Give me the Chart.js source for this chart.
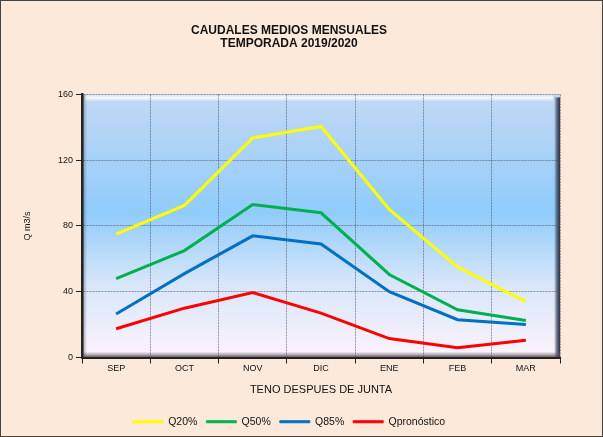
<!DOCTYPE html>
<html>
<head>
<meta charset="utf-8">
<script src="https://cdn.jsdelivr.net/npm/chart.js@4/dist/chart.umd.min.js"></script>
<style>
  html, body { margin: 0; padding: 0; background: #fde9d9; }
  #wrap { width: 603px; height: 437px; }
</style>
</head>
<body>
<div id="wrap"><canvas id="myChart" width="603" height="437"></canvas></div>
<script>
// Datos
const meses = ['SEP', 'OCT', 'NOV', 'DIC', 'ENE', 'FEB', 'MAR'];
const q20 = [75, 92.5, 133.5, 140.5, 90, 55, 34];
const q50 = [48, 65, 93, 88, 50.5, 29, 22.5];
const q85 = [26.5, 51, 74, 69, 40, 23, 20];
const qPronostico = [17.5, 30, 39.5, 27, 11.5, 6, 10.5];
const ticksY = [0, 40, 80, 120, 160];

const fuente = "'Liberation Sans', Arial, sans-serif";
Chart.defaults.font.family = fuente;

// Fondo de la figura y del area de trazado (degradado + bisel)
const fondoPlugin = {
    id: 'fondo',
    beforeDraw(chart) {
        const { ctx, width, height, chartArea: a } = chart;
        ctx.save();
        ctx.fillStyle = '#fde9d9';
        ctx.fillRect(0, 0, width, height);
        ctx.strokeStyle = '#444';
        ctx.lineWidth = 1;
        ctx.strokeRect(0.5, 0.5, width - 1, height - 1);

        const g = ctx.createLinearGradient(0, a.top, 0, a.bottom);
        g.addColorStop(0, '#c3d8f4');
        g.addColorStop(0.45, '#90ccfb');
        g.addColorStop(0.72, '#d8e6fa');
        g.addColorStop(1, '#fdf3fc');
        ctx.fillStyle = g;
        ctx.fillRect(a.left, a.top, a.width, a.height);

        // brillo superior
        const gt = ctx.createLinearGradient(0, a.top, 0, a.top + 7);
        gt.addColorStop(0, 'rgba(255,255,255,0.2)');
        gt.addColorStop(0.5, 'rgba(245,252,255,0.95)');
        gt.addColorStop(1, 'rgba(255,255,255,0)');
        ctx.fillStyle = gt;
        ctx.fillRect(a.left + 3, a.top, a.width - 10, 7);

        // sombra derecha
        const gr = ctx.createLinearGradient(a.right - 6, 0, a.right, 0);
        gr.addColorStop(0, 'rgba(60,80,110,0)');
        gr.addColorStop(0.5, 'rgba(60,75,100,0.8)');
        gr.addColorStop(1, 'rgba(40,50,70,1)');
        ctx.fillStyle = gr;
        ctx.fillRect(a.right - 6, a.top + 3, 6, a.height - 3);

        // sombra inferior
        const gb = ctx.createLinearGradient(0, a.bottom - 6, 0, a.bottom);
        gb.addColorStop(0, 'rgba(120,110,120,0)');
        gb.addColorStop(1, 'rgba(70,60,70,0.9)');
        ctx.fillStyle = gb;
        ctx.fillRect(a.left, a.bottom - 6, a.width, 6);

        // sombra izquierda
        const gl = ctx.createLinearGradient(a.left, 0, a.left + 5, 0);
        gl.addColorStop(0, 'rgba(80,80,90,0.6)');
        gl.addColorStop(1, 'rgba(80,80,90,0)');
        ctx.fillStyle = gl;
        ctx.fillRect(a.left, a.top, 5, a.height);
        ctx.restore();
    }
};

function serie(label, data, color) {
    return {
        label: label,
        data: data,
        borderColor: color,
        backgroundColor: color,
        borderWidth: 3,
        pointRadius: 0,
        tension: 0,
        fill: false
    };
}

const ctx = document.getElementById('myChart').getContext('2d');
new Chart(ctx, {
    type: 'line',
    data: {
        labels: meses,
        datasets: [
            serie('Q20%', q20, '#ffff00'),
            serie('Q50%', q50, '#00b050'),
            serie('Q85%', q85, '#0070c0'),
            serie('Qpronóstico', qPronostico, '#ff0000')
        ]
    },
    options: {
        responsive: false,
        animation: false,
        layout: { padding: { top: 0, right: 43, bottom: 0, left: 18 } },
        plugins: {
            title: {
                display: true,
                text: ['CAUDALES MEDIOS MENSUALES', 'TEMPORADA 2019/2020'],
                color: '#111',
                font: { family: fuente, size: 12, weight: 'bold', lineHeight: 1.1 },
                padding: { top: 24, bottom: 44 }
            },
            legend: {
                position: 'bottom',
                labels: {
                    boxWidth: 30,
                    boxHeight: 2,
                    color: '#111',
                    font: { family: fuente, size: 10.5 },
                    padding: 9,
                    generateLabels: (chart) => {
                        const items = Chart.defaults.plugins.legend.labels.generateLabels(chart);
                        items.forEach(it => { it.lineWidth = 1; });
                        return items;
                    }
                }
            },
            tooltip: { enabled: false }
        },
        scales: {
            x: {
                offset: true,
                grid: {
                    offset: true,
                    color: 'rgba(70,70,85,0.55)',
                    tickColor: '#222',
                    tickLength: 6,
                    tickBorderDash: []
                },
                border: { display: true, color: '#222', width: 2, dash: [2, 1] },
                ticks: { color: '#111', font: { family: fuente, size: 9 }, padding: 0, maxRotation: 0 },
                title: {
                    display: true,
                    text: 'TENO DESPUES DE JUNTA',
                    color: '#111',
                    font: { family: fuente, size: 11 },
                    padding: { top: 9, bottom: 11 }
                }
            },
            y: {
                min: 0,
                max: 160,
                afterBuildTicks: (s) => { s.ticks = ticksY.map(v => ({ value: v })); },
                afterFit: (s) => { s.width = 64; },
                grid: {
                    color: 'rgba(70,70,85,0.55)',
                    tickColor: '#222',
                    tickLength: 6,
                    tickBorderDash: []
                },
                border: { display: true, color: '#222', width: 2.5, dash: [2, 1] },
                ticks: { color: '#111', font: { family: fuente, size: 9 }, padding: 3 },
                title: {
                    display: true,
                    text: 'Q m3/s',
                    color: '#111',
                    font: { family: fuente, size: 9 },
                    padding: { top: 4, bottom: 0 }
                }
            }
        }
    },
    plugins: [fondoPlugin]
});
</script>
</body>
</html>
